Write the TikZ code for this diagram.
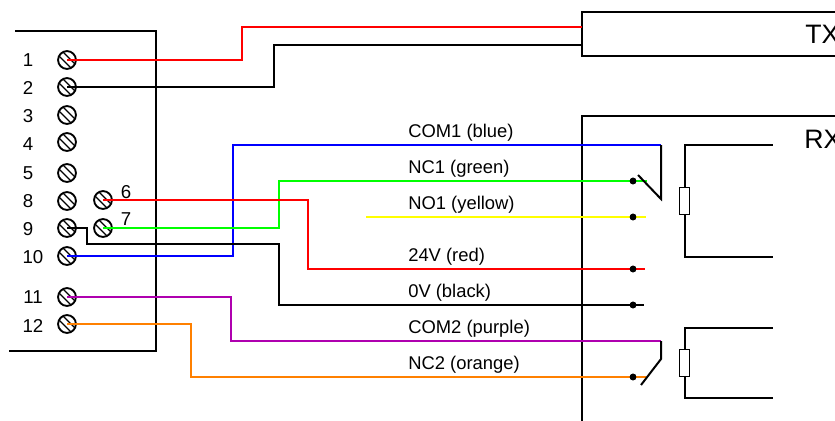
\documentclass[tikz,border=0pt]{standalone}
\usepackage{fontspec}
\setmainfont{Liberation Sans}
\definecolor{wred}{RGB}{255,0,0}
\definecolor{wgreen}{RGB}{0,255,0}
\definecolor{wblue}{RGB}{0,0,255}
\definecolor{wyellow}{RGB}{255,255,0}
\definecolor{wpurple}{RGB}{175,0,175}
\definecolor{worange}{RGB}{255,128,0}
\tikzset{
  frame/.style={draw=black,line width=1.5pt},
  wire/.style={line width=1.5pt},
  lab/.style={font=\fontsize{14pt}{16pt}\selectfont,inner sep=0pt,anchor=base},
  wlab/.style={font=\fontsize{13.8pt}{15pt}\selectfont,inner sep=0pt,anchor=base west},
  big/.style={font=\fontsize{20pt}{22pt}\selectfont,inner sep=0pt,anchor=base west},
  screw/.style={circle,draw=black,line width=1.4pt,minimum size=13.4pt,inner sep=0pt,
    path picture={
      \draw[line width=1pt] ([xshift=-5.4pt,yshift=8.4pt]path picture bounding box.center) -- ([xshift=8.4pt,yshift=-5.4pt]path picture bounding box.center);
      \draw[line width=1pt] ([xshift=-8.4pt,yshift=5.4pt]path picture bounding box.center) -- ([xshift=5.4pt,yshift=-8.4pt]path picture bounding box.center);
    }},
  dotn/.style={circle,fill=black,inner sep=0pt,minimum size=5pt},
  res/.style={rectangle,draw=black,line width=1.2pt,fill=white,minimum width=7.4pt,minimum height=20pt,inner sep=0pt}
}
\begin{document}
\begin{tikzpicture}[x=0.75pt,y=-0.75pt]
\useasboundingbox (0,0) rectangle (835,421);
% enclosures
\draw[frame] (15,31) -- (156,31) -- (156,351) -- (9,351);
\draw[frame] (835,12) -- (581.5,12) -- (581.5,55.5) -- (835,55.5);
\draw[frame] (835,116) -- (581.5,116) -- (581.5,421);
\node[big] (tx) at (805,43) {TX};
\node[big] (rx) at (804,148) {RX};
% screws
\foreach \n/\x/\y in {s1/67/60,s2/67/87,s3/67/115,s4/67/142,s5/67/173,s8/67/201,s9/67/228,s10/67/256,s11/67/297,s12/67/324,s6/103/200,s7/103/228}
  \node[screw] (\n) at (\x,\y) {};
% numbers
\foreach \t/\x/\y in {1/28/66,2/28/94,3/28/122,4/28/150,5/28/179,8/28/207,9/28/235,10/33/263,11/33/303,12/33/332,6/126/198,7/126/225}
  \node[lab] (n\t) at (\x,\y) {\t};
% contact dots
\foreach \n/\y in {d1/181,d2/217,d3/269,d4/305,d5/377}
  \node[dotn] (\n) at (633,\y) {};
% wires
\draw[wire,wred] (s1.center) -- (242,60) -- (242,27) -- (582,27);
\draw[wire,black] (s2.center) -- (274,87) -- (274,45) -- (582,45);
\draw[wire,wblue] (s10.center) -- (233,256) -- (233,145) -- (661,145);
\draw[wire,wgreen] (s7.center) -- (279,228) -- (279,181) -- (d1.center) -- (647,181);
\draw[wire,wred] (s6.center) -- (308,200) -- (308,269) -- (d3.center) -- (645,269);
\draw[wire,black] (s9.center) -- (87,228) -- (87,244) -- (279,244) -- (279,305) -- (d4.center) -- (644,305);
\draw[wire,wyellow] (366,217) -- (d2.center) -- (646,217);
\draw[wire,wpurple] (s11.center) -- (231,297) -- (231,341) -- (661,341);
\draw[wire,worange] (s12.center) -- (191,324) -- (191,377) -- (d5.center) -- (646,377);
% dots on top
\foreach \n/\y in {d1/181,d2/217,d3/269,d4/305,d5/377}
  \fill (\n) circle (2.5pt);
% contacts
\draw[wire,black] (661,145) -- (661,199) -- (638,175);
\draw[wire,black] (661,341) -- (661,359) -- (641,385);
% coils
\node[res] (r1) at (684.5,201) {};
\node[res] (r2) at (684.5,363) {};
\draw[wire,black] (r1.north) -- (684.5,145) -- (773,145);
\draw[wire,black] (r1.south) -- (684.5,257) -- (773,257);
\draw[wire,black] (r2.north) -- (684.5,328) -- (773,328);
\draw[wire,black] (r2.south) -- (684.5,398) -- (773,398);
% wire labels
\node[wlab] at (408,137.5) {COM1 (blue)};
\node[wlab] at (408,173.5) {NC1 (green)};
\node[wlab] at (408,209.5) {NO1 (yellow)};
\node[wlab] at (408,261.5) {24V (red)};
\node[wlab] at (408,297.5) {0V (black)};
\node[wlab] at (408,333.5) {COM2 (purple)};
\node[wlab] at (408,369.5) {NC2 (orange)};
\end{tikzpicture}
\end{document}
